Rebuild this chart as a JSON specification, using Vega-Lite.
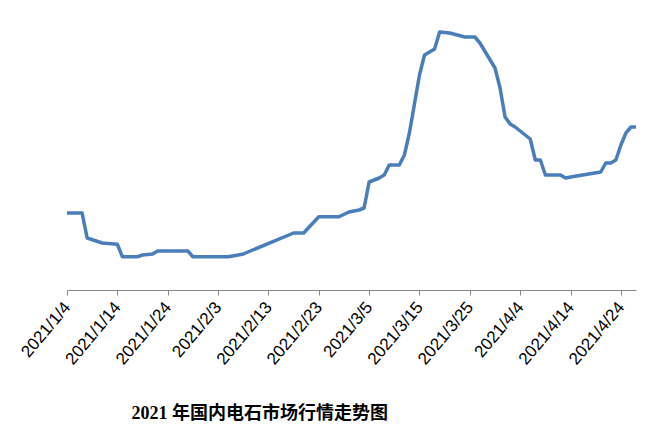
{
  "$schema": "https://vega.github.io/schema/vega-lite/v6.json",
  "autosize": "none",
  "width": 569,
  "height": 285,
  "padding": {"left": 67, "top": 5, "right": 20, "bottom": 145},
  "background": "white",
  "config": {"view": {"stroke": null}},
  "title": {
    "text": "2021 年国内电石市场行情走势图",
    "orient": "bottom",
    "anchor": "start",
    "dx": 114,
    "offset": 38,
    "font": "Liberation Serif, Noto Sans CJK SC",
    "fontSize": 18,
    "fontWeight": "bold",
    "color": "#000000"
  },
  "data": {
    "values": [
      {"date": "2021-01-04", "price": 4150},
      {"date": "2021-01-07", "price": 4150},
      {"date": "2021-01-08", "price": 3950},
      {"date": "2021-01-11", "price": 3910},
      {"date": "2021-01-14", "price": 3900},
      {"date": "2021-01-15", "price": 3800},
      {"date": "2021-01-18", "price": 3800},
      {"date": "2021-01-19", "price": 3814},
      {"date": "2021-01-21", "price": 3822},
      {"date": "2021-01-22", "price": 3846},
      {"date": "2021-01-28", "price": 3846},
      {"date": "2021-01-29", "price": 3800},
      {"date": "2021-02-05", "price": 3800},
      {"date": "2021-02-07", "price": 3814},
      {"date": "2021-02-08", "price": 3822},
      {"date": "2021-02-18", "price": 3990},
      {"date": "2021-02-20", "price": 3990},
      {"date": "2021-02-23", "price": 4120},
      {"date": "2021-02-27", "price": 4120},
      {"date": "2021-03-01", "price": 4158},
      {"date": "2021-03-03", "price": 4174},
      {"date": "2021-03-04", "price": 4190},
      {"date": "2021-03-05", "price": 4398},
      {"date": "2021-03-07", "price": 4430},
      {"date": "2021-03-08", "price": 4454},
      {"date": "2021-03-09", "price": 4534},
      {"date": "2021-03-11", "price": 4534},
      {"date": "2021-03-12", "price": 4614},
      {"date": "2021-03-13", "price": 4790},
      {"date": "2021-03-14", "price": 5022},
      {"date": "2021-03-15", "price": 5254},
      {"date": "2021-03-16", "price": 5414},
      {"date": "2021-03-18", "price": 5462},
      {"date": "2021-03-19", "price": 5598},
      {"date": "2021-03-21", "price": 5590},
      {"date": "2021-03-24", "price": 5558},
      {"date": "2021-03-26", "price": 5558},
      {"date": "2021-03-27", "price": 5510},
      {"date": "2021-03-30", "price": 5310},
      {"date": "2021-03-31", "price": 5150},
      {"date": "2021-04-01", "price": 4918},
      {"date": "2021-04-02", "price": 4862},
      {"date": "2021-04-03", "price": 4838},
      {"date": "2021-04-06", "price": 4742},
      {"date": "2021-04-07", "price": 4574},
      {"date": "2021-04-08", "price": 4574},
      {"date": "2021-04-09", "price": 4454},
      {"date": "2021-04-12", "price": 4454},
      {"date": "2021-04-13", "price": 4430},
      {"date": "2021-04-14", "price": 4438},
      {"date": "2021-04-20", "price": 4478},
      {"date": "2021-04-21", "price": 4550},
      {"date": "2021-04-22", "price": 4550},
      {"date": "2021-04-23", "price": 4574},
      {"date": "2021-04-24", "price": 4694},
      {"date": "2021-04-25", "price": 4790},
      {"date": "2021-04-26", "price": 4838},
      {"date": "2021-04-27", "price": 4838}
    ]
  },
  "mark": {"type": "line", "color": "#4a7ebb", "strokeWidth": 3.5, "strokeJoin": "round", "strokeCap": "butt"},
  "encoding": {
    "x": {
      "field": "date",
      "type": "temporal",
      "scale": {"domain": [{"year": 2021, "month": 1, "date": 4}, {"year": 2021, "month": 4, "date": 27}]},
      "axis": {
        "title": null,
        "values": [
          {"year": 2021, "month": 1, "date": 4},
          {"year": 2021, "month": 1, "date": 14},
          {"year": 2021, "month": 1, "date": 24},
          {"year": 2021, "month": 2, "date": 3},
          {"year": 2021, "month": 2, "date": 13},
          {"year": 2021, "month": 2, "date": 23},
          {"year": 2021, "month": 3, "date": 5},
          {"year": 2021, "month": 3, "date": 15},
          {"year": 2021, "month": 3, "date": 25},
          {"year": 2021, "month": 4, "date": 4},
          {"year": 2021, "month": 4, "date": 14},
          {"year": 2021, "month": 4, "date": 24}
        ],
        "format": "%Y/%-m/%-d",
        "labelAngle": -50,
        "labelAlign": "right",
        "labelBaseline": "middle",
        "labelFont": "Liberation Sans",
        "labelFontSize": 17,
        "labelColor": "#000000",
        "labelPadding": 9,
        "labelOverlap": false,
        "labelFlush": false,
        "domainColor": "#868686",
        "domainWidth": 1,
        "tickColor": "#868686",
        "tickSize": 5,
        "grid": false
      }
    },
    "y": {
      "field": "price",
      "type": "quantitative",
      "scale": {"domain": [3534, 5814], "zero": false, "nice": false},
      "axis": null
    }
  }
}
